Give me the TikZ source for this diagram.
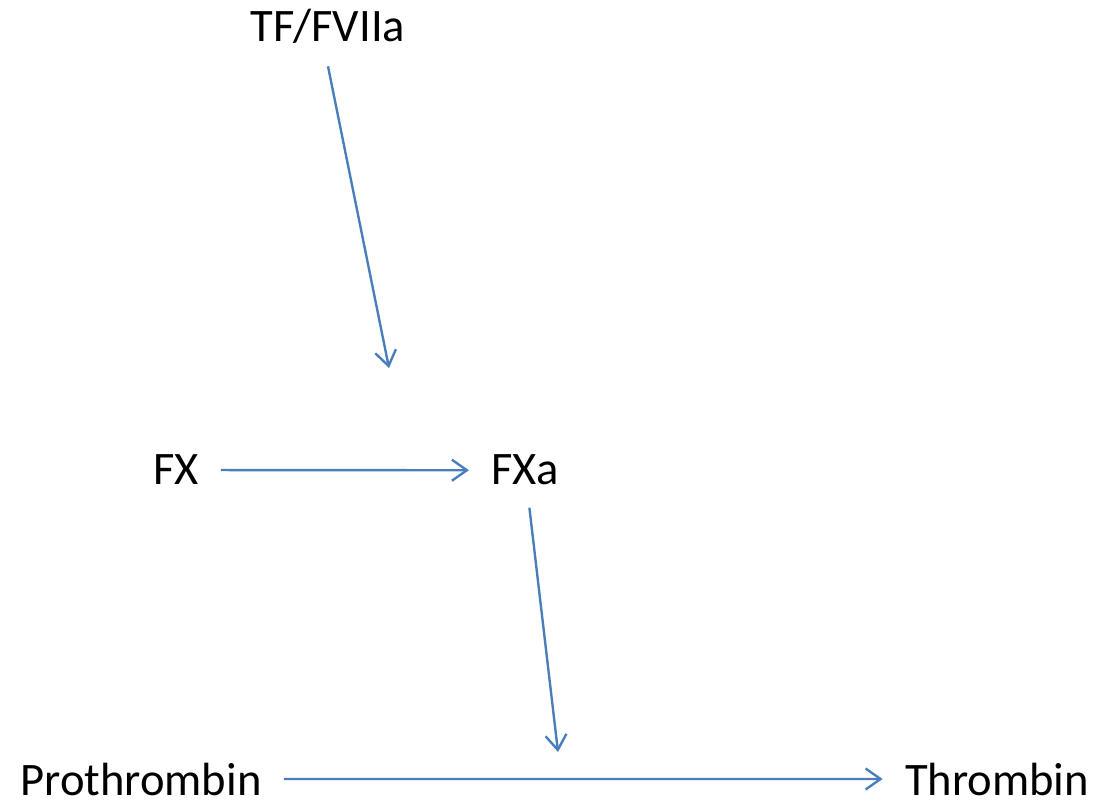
\documentclass[tikz,border=0pt]{standalone}
\usepackage{fontspec}
\setmainfont{Carlito}
\usetikzlibrary{arrows.meta}
\definecolor{arrowblue}{HTML}{4A7EBB}
\tikzset{
  factor/.style={font=\fontsize{26.5}{32}\selectfont, inner xsep=0.44cm, inner ysep=0.44cm, anchor=base},
  react/.style={draw=arrowblue, line width=1.35pt, -{Straight Barb[length=0.3cm, width=0.42cm, line width=1.35pt]}}
}
\begin{document}
\begin{tikzpicture}
    \useasboundingbox (0,0) rectangle (21.98,16.08);

    % nodes
    \node[factor] (tf) at (6.56,15.24) {TF/FVIIa};
    \node[factor] (fx) at (3.52,6.38) {FX};
    \node[factor] (fxa) at (10.50,6.38) {FXa};
    \node[factor] (pro) at (2.82,0.18) {Prothrombin};
    \node[factor] (thr) at (19.94,0.18) {Thrombin};

    % free ends of the enzyme arrows
    \coordinate (tip1) at (7.78,8.72);
    \coordinate (tip2) at (11.16,1.04);

    % arrows
    \draw[react] (tf.south) -- (tip1);
    \draw[react] (fx.east) -- (fxa.west);
    \draw[react] (fxa) -- (tip2);
    \draw[react] (pro.east) -- (thr.west);
\end{tikzpicture}
\end{document}
